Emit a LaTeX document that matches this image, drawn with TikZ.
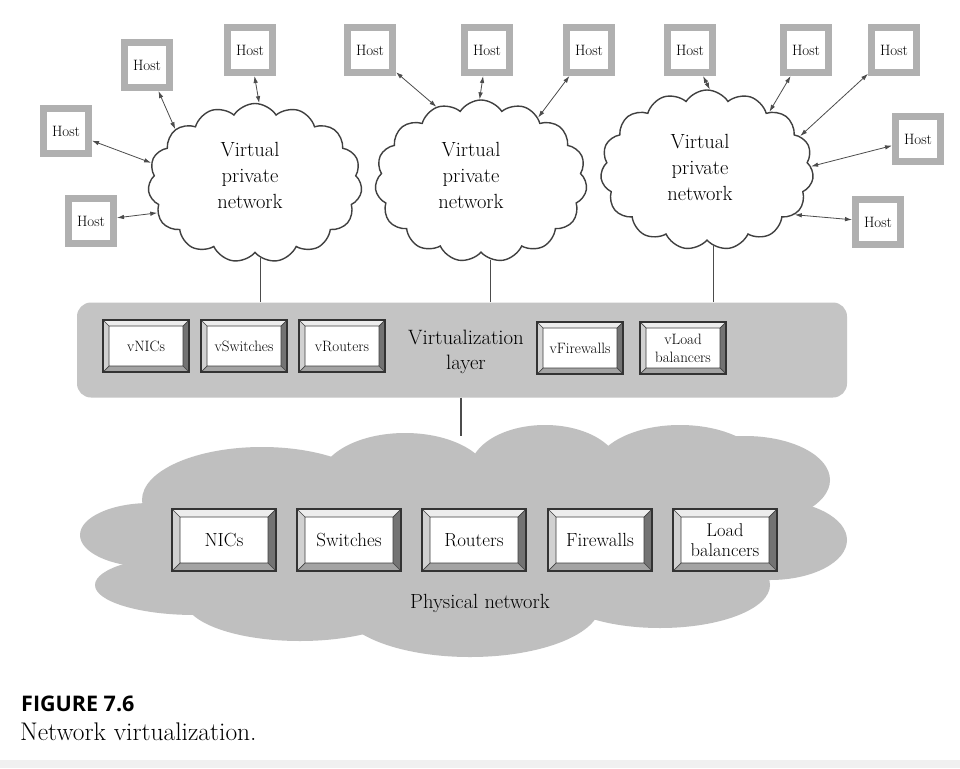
\documentclass[tikz,border=0pt]{standalone}
\usepackage{fontspec}
\newfontfamily\capfont{Open Sans}
\usetikzlibrary{shapes.symbols,arrows.meta,calc}
\newcommand\mybevel[2]{%
  \coordinate (#1-a) at ($(#1.north west)+(#2,#2)$);
  \coordinate (#1-b) at ($(#1.north east)+(-#2,#2)$);
  \coordinate (#1-c) at ($(#1.south east)+(-#2,-#2)$);
  \coordinate (#1-d) at ($(#1.south west)+(#2,-#2)$);
  \fill[black!7] (#1.north west) -- (#1.north east) -- (#1-b) -- (#1-a) -- cycle;
  \fill[black!18] (#1.north west) -- (#1-a) -- (#1-d) -- (#1.south west) -- cycle;
  \fill[black!55] (#1.north east) -- (#1-b) -- (#1-c) -- (#1.south east) -- cycle;
  \fill[black!36] (#1.south west) -- (#1-d) -- (#1-c) -- (#1.south east) -- cycle;
  \draw[black!75, line width=0.7pt] (#1.north west) -- (#1-a) (#1.north east) -- (#1-b)
     (#1.south east) -- (#1-c) (#1.south west) -- (#1-d) (#1-a) rectangle (#1-c);
  \draw[black!80, line width=1.3pt] (#1.north west) rectangle (#1.south east);
}
\begin{document}
\begin{tikzpicture}[x=1pt,y=-1pt,
  host/.style={draw=black!31, line width=7pt, fill=white, minimum size=45pt, inner sep=0pt,
    font=\fontsize{15}{17}\selectfont},
  vpn/.style={cloud, cloud puffs=15, cloud puff arc=115, cloud ignores aspect, draw=black!75,
    line width=1.4pt, fill=white, inner sep=0pt},
  vpntext/.style={align=center, inner sep=0pt, font=\fontsize{20.5}{26}\selectfont},
  link/.style={{Latex[length=7pt,width=4.5pt]}-{Latex[length=7pt,width=4.5pt]}, draw=black!70, line width=0.8pt},
  wire/.style={draw=black!70, line width=1.2pt},
  vbox/.style={rectangle, draw=black!80, line width=1pt, fill=white, minimum width=86pt,
    minimum height=52pt, inner sep=0pt, outer sep=0pt, align=center, font=\fontsize{15}{18}\selectfont},
  pbox/.style={rectangle, draw=black!80, line width=1pt, fill=white, minimum width=104pt,
    minimum height=62pt, inner sep=0pt, outer sep=0pt, align=center, font=\fontsize{19}{20}\selectfont},
]
\useasboundingbox (0,0) rectangle (960,768);
\fill[white] (0,0) rectangle (960,768);
\fill[black!6] (0,760) rectangle (960,768);

% physical cloud
\foreach \cx/\cy/\rx/\ry in {150/535/70/32, 195/585/100/30, 300/600/115/41, 470/605/130/52,
  660/585/110/43, 770/540/77/40, 745/480/85/44, 680/470/85/45, 545/470/75/45, 405/480/85/47,
  262/500/120/53}
  \fill[black!25] (\cx,\cy) ellipse [x radius=\rx, y radius=\ry];
\fill[black!25] (160,490) rectangle (760,600);

% virtualization layer
\node[fill=black!23, rounded corners=14pt, minimum width=770pt, minimum height=95pt, inner sep=0pt] (layer) at (462,350) {};
\node[align=center, inner sep=0pt, font=\fontsize{20.8}{25}\selectfont] (vl) at (466,352) {Virtualization\\layer};

% clouds
\node[vpn, minimum width=214pt, minimum height=159pt] (c1) at (255,183) {};
\node[vpn, minimum width=212pt, minimum height=162pt] (c2) at (481,181) {};
\node[vpn, minimum width=213pt, minimum height=160pt] (c3) at (707,170) {};
\node[vpntext] (t1) at (250,175) {Virtual\\private\\network};
\node[vpntext] (t2) at (471,175) {Virtual\\private\\network};
\node[vpntext] (t3) at (700,167) {Virtual\\private\\network};

% hosts
\node[host] (h1) at (147,65) {Host};
\node[host] (h2) at (250,50) {Host};
\node[host] (h3) at (66,131) {Host};
\node[host] (h4) at (91,221) {Host};
\node[host] (h5) at (370,50) {Host};
\node[host] (h6) at (487,50) {Host};
\node[host] (h7) at (589,50) {Host};
\node[host] (h8) at (690,50) {Host};
\node[host] (h9) at (806,50) {Host};
\node[host] (h10) at (894,50) {Host};
\node[host] (h11) at (918,139) {Host};
\node[host] (h12) at (878,222) {Host};

\draw[link] (h1) -- (c1.146);
\draw[link] (h2) -- (c1.87);
\draw[link] (h3) -- (c1.169);
\draw[link] (h4) -- (c1.197);
\draw[link] (h5) -- (c2.121);
\draw[link] (h6) -- (c2.91);
\draw[link] (h7) -- (c2.48);
\draw[link] (h8) -- (c3.88);
\draw[link] (h9) -- (c3.43);
\draw[link] (h10) -- (c3.20);
\draw[link] (h11) -- (c3.2);
\draw[link] (h12) -- (c3.333);

% cloud to layer wires
\draw[wire] (c1.-86) -- (c1.-86 |- layer.north);
\draw[wire] (c2.-83) -- (c2.-83 |- layer.north);
\draw[wire] (c3.-85) -- (c3.-85 |- layer.north);
\coordinate (ptop) at (461,436);
\draw[wire] (layer.south -| ptop) -- (ptop);

% virtual boxes
\node[vbox] (v1) at (146,346) {vNICs};
\node[vbox] (v2) at (244,346) {vSwitches};
\node[vbox] (v3) at (342,346) {vRouters};
\node[vbox] (v4) at (580,348) {vFirewalls};
\node[vbox] (v5) at (683,348) {vLoad\\balancers};
\foreach \n in {v1,v2,v3,v4,v5} {\mybevel{\n}{6}}

% physical boxes
\node[pbox] (p1) at (224,540) {NICs};
\node[pbox] (p2) at (349,540) {Switches};
\node[pbox] (p3) at (474,540) {Routers};
\node[pbox] (p4) at (600,540) {Firewalls};
\node[pbox, font=\fontsize{18.5}{20}\selectfont] (p5) at (725,540) {Load\\balancers};
\foreach \n in {p1,p2,p3,p4,p5} {\mybevel{\n}{8}}

\node[inner sep=0pt, font=\fontsize{20.5}{24}\selectfont] (pn) at (480,603) {Physical network};

% caption
\node[anchor=base west, inner sep=0pt, font=\capfont\bfseries\fontsize{21.5}{24}\selectfont] (fig) at (21,711) {FIGURE 7.6};
\node[anchor=base west, inner sep=0pt, font=\fontsize{25.5}{28}\selectfont] (cap) at (20,740) {Network virtualization.};
\end{tikzpicture}
\end{document}
